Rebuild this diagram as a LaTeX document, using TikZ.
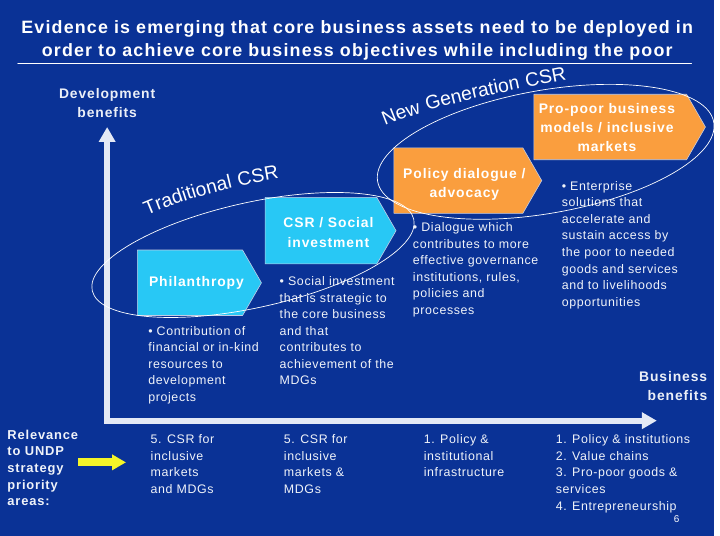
\documentclass[tikz,border=0pt]{standalone}
\usepackage{fontspec}
\setmainfont{Liberation Sans}[LetterSpace=5]
\newfontfamily\widefont{Liberation Sans}[LetterSpace=6.5]
\usetikzlibrary{shapes.symbols,arrows.meta,decorations.text}
\definecolor{slide}{RGB}{10,50,150}
\definecolor{boxcyan}{RGB}{40,200,245}
\definecolor{boxorange}{RGB}{250,158,62}
\definecolor{axisgrey}{RGB}{228,233,245}
\definecolor{signyellow}{RGB}{245,245,40}
\newcommand\curvefont{\fontsize{19.5}{21}\selectfont}
\tikzset{
  chevron/.style={signal,signal to=east,signal pointer angle=120,draw=white!75!slide,line width=.6pt,inner sep=0pt},
  boxlabel/.style={anchor=base,align=center,inner sep=0pt,text=white,font=\fontsize{14}{19.5}\selectfont\widefont\bfseries},
  desc/.style={anchor=base west,align=left,inner sep=0pt,text=white!94!slide,font=\fontsize{12.5}{16.7}\selectfont},
  heading/.style={anchor=base,align=center,inner sep=0pt,text=white!92!slide,font=\fontsize{14}{19}\selectfont\widefont\bfseries},
  ring/.style={draw=white,line width=.7pt},
  axisline/.style={line width=6pt,draw=axisgrey,line join=miter,{Triangle[width=16pt,length=15pt]}-{Triangle[width=16pt,length=15pt]}},
  yarrow/.style={line width=8pt,draw=signyellow,line cap=butt,-{Triangle[width=15pt,length=14pt]}}
}
\begin{document}
\begin{tikzpicture}[x=1pt,y=-1pt,line join=round,line cap=round,>=stealth]
	\fill[slide] (0,0) rectangle (720,540);
	% title and rule (base = last line)
	\node[anchor=base,align=center,inner sep=0pt,text=white,font=\fontsize{18}{24}\selectfont\widefont\bfseries] (title) at (360,57.3)
	{Evidence is emerging that core business assets need to be deployed in\\order to achieve core business objectives while including the poor};
	\draw[white,line width=.8pt] (18,63.5)--(697,63.5);
	% axes
	\path
	(108,128) coordinate (ytip)
	(108,424) coordinate (O)
	(662,424) coordinate (xtip)
	(127,466) coordinate (yhead);
	\draw[axisline] (ytip)--(O)--(xtip);
	\node[heading] (devben) at (108,118) {Development\\benefits};
	\node[heading,anchor=base east,align=right] (busben) at (713,404) {Business\\benefits};
	% chevrons
	\node[chevron,fill=boxcyan,minimum width=125pt,minimum height=66pt] (phil) at (191.5,285) {};
	\node[chevron,fill=boxcyan,minimum width=132pt,minimum height=67pt] (csr) at (323.5,232.5) {};
	\node[chevron,fill=boxorange,minimum width=149pt,minimum height=66pt] (policy) at (462,182) {};
	\node[chevron,fill=boxorange,minimum width=173pt,minimum height=66pt] (propoor) at (615,128) {};
	\node[boxlabel] (philtext) at (198,289) {Philanthropy};
	\node[boxlabel] (csrtext) at (331,249) {CSR / Social\\investment};
	\node[boxlabel] (policytext) at (468,199) {Policy dialogue /\\advocacy};
	\node[boxlabel] (propoortext) at (611.7,153) {Pro-poor business\\models / inclusive\\markets};
	% descriptions, \n = number of lines
	\foreach \nm/\x/\y/\n/\txt in {
		dphil/149.3/337.7/5/{• Contribution of\\financial or in-kind\\resources to\\development\\projects},
		dcsr/281.7/287.7/7/{• Social investment\\that is strategic to\\the core business\\and that\\contributes to\\achievement of the\\MDGs},
		dpolicy/416/233.3/6/{• Dialogue which\\contributes to more\\effective governance\\institutions, rules,\\policies and\\processes},
		dpropoor/566/191.7/8/{• Enterprise\\solutions that\\accelerate and\\sustain access by\\the poor to needed\\goods and services\\and to livelihoods\\opportunities}}
	\node[desc] (\nm) at (\x,{\y+(\n-1)*16.7}) {\txt};
	% groupings
	\draw[ring,rotate around={12.5:(255,257)}] (255,257) ellipse [x radius=166pt,y radius=53pt];
	\draw[ring,rotate around={10:(550,153)}] (550,153) ellipse [x radius=172pt,y radius=62pt];
	\path[decorate,decoration={text along path,text align=left,text color=white,text={|\curvefont|Traditional CSR}}]
	(148,217) .. controls (190,199) and (240,186) .. (294,178);
	\path[decorate,decoration={text along path,text align=left,text color=white,text={|\curvefont|New Generation CSR}}]
	(388,127) .. controls (440,105) and (510,92) .. (592,76);
	% UNDP priority areas
	\node[desc,font=\fontsize{13}{16.8}\selectfont\widefont\bfseries] (rel) at (7.3,509.9) {Relevance\\to UNDP\\strategy\\priority\\areas:};
	\foreach \nm/\x/\n/\txt in {
		u1/151.7/4/{5. CSR for\\inclusive\\markets\\and MDGs},
		u2/286/4/{5. CSR for\\inclusive\\markets \&\\MDGs},
		u3/427/3/{1. Policy \&\\institutional\\infrastructure},
		u4/560/5/{1. Policy \& institutions\\2. Value chains\\3. Pro-poor goods \&\\services\\4. Entrepreneurship}}
	\node[desc] (\nm) at (\x,{447.3+(\n-1)*16.7}) {\txt};
	\draw[yarrow] (rel.east |- yhead)--(yhead);
	\node[anchor=base,inner sep=0pt,text=white,font=\fontsize{10}{12}\selectfont] (pageno) at (682,526.7) {6};
\end{tikzpicture}
\end{document}
